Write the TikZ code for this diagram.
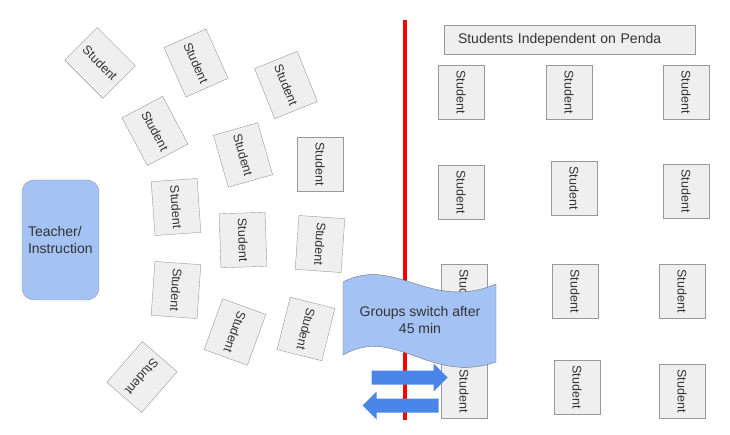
\documentclass[tikz,border=0pt]{standalone}
\usepackage{fontspec}
\setmainfont{Liberation Sans}
\usepackage{tikz}
\usetikzlibrary{shapes.arrows}
\usepackage{xcolor}
\definecolor{deskfill}{HTML}{EFEFEF}
\definecolor{deskline}{HTML}{999999}
\definecolor{teacherblue}{HTML}{A4C2F4}
\definecolor{arrowblue}{HTML}{4A86E8}
\definecolor{inktext}{HTML}{333333}

\begin{document}
\begin{tikzpicture}[x=1pt, y=-1pt]
    % Define styles
    \tikzstyle{desk}=[draw=deskline, fill=deskfill, text=inktext, minimum width=54pt, minimum height=46pt, inner sep=0pt, font=\fontsize{12.5}{15}\selectfont]
    \tikzstyle{bigtext}=[text=inktext, font=\fontsize{14}{16.5}\selectfont]
    \tikzstyle{swaparrow}=[single arrow, fill=arrowblue, minimum height=76pt, minimum width=28pt, single arrow head extend=7pt, inner xsep=0pt, inner ysep=6.8pt]

    \useasboundingbox (0,0) rectangle (730,435);

    % Teacher at the front
    \node[bigtext, draw=deskline, fill=teacherblue, rounded corners=12pt, minimum width=77pt, minimum height=120pt, text width=65pt, inner xsep=0pt, align=left] (teacher) at (60.5,240) {Teacher/\\Instruction};

    % Left side - group desks round the teacher (name/x/y/angle)
    \foreach \n/\x/\y/\a in {1/100/63/-45, 2/196/63/-66, 3/286/85/-68, 4/155/131/-62, 5/243/155/-74, 6/320/164/-90, 7/176/207/-86, 8/243/240/-88, 9/320/244/-94, 10/176/290/-94, 11/235/332/-110, 12/306/329/-104, 13/142/377/-131} {
        \node[desk, rotate=\a] (left\n) at (\x,\y) {Student};
    }

    % Right side - rows of desks
    \node[bigtext, draw=deskline, fill=deskfill, minimum height=29pt, text width=223pt, inner xsep=14pt, inner ysep=0pt, align=left] (penda) at (569.5,39.5) {Students Independent on Penda};
    \foreach \n/\x/\y in {1/461/92, 2/569/92, 3/686/92, 4/461/192, 5/574/188, 6/686/191, 7/464/291, 8/575/291, 9/682/291, 10/464/391, 11/577/387, 12/682/391} {
        \node[desk, rotate=-90] (right\n) at (\x,\y) {Student};
    }

    % Divider
    \coordinate (divtop) at (405,20);
    \coordinate (divbot) at (405,420);
    \draw[red, line width=4pt] (divtop) -- (divbot);

    % Wave banner
    \filldraw[fill=teacherblue, draw=black!55] (343,282) .. controls (395,255) and (430,312) .. (496,284) -- (496,362) .. controls (430,385) and (395,325) .. (343,355) -- cycle;
    \node[bigtext, align=center] (switch) at (420,320) {Groups switch after\\45 min};

    % Swap arrows
    \node[swaparrow] (swapright) at (406,377.5) {};
    \node[swaparrow, shape border rotate=180] (swapleft) at (404,405.5) {};
\end{tikzpicture}
\end{document}
